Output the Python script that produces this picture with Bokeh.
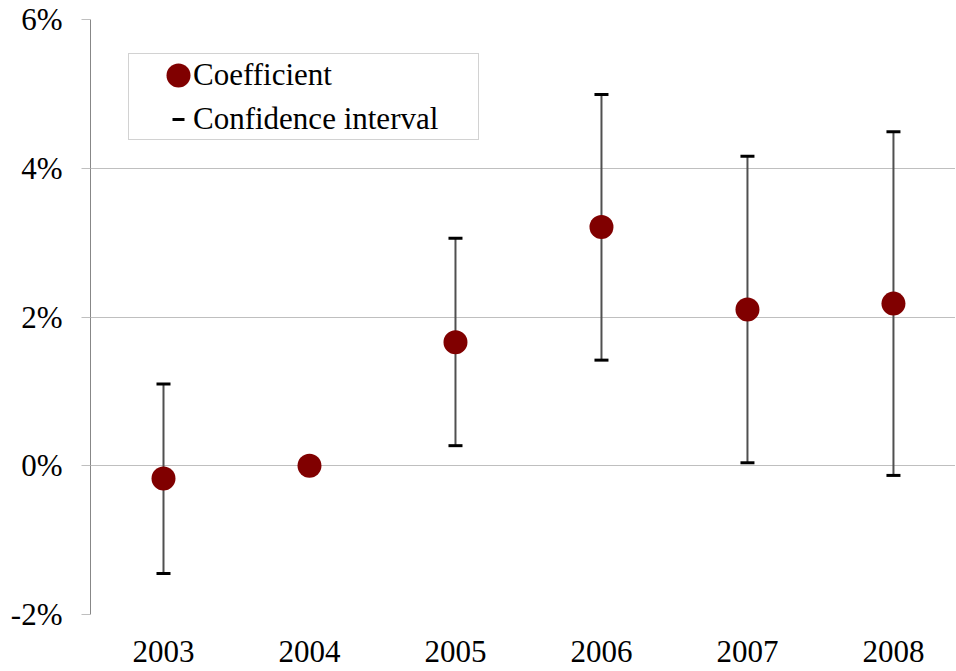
import numpy as np
from bokeh.plotting import figure
from bokeh.models import (Range1d, FixedTicker, PrintfTickFormatter, Legend,
                          LegendItem, ColumnDataSource)
from bokeh.embed import file_html
from bokeh.resources import INLINE

# ---- data ----
years = ["2003", "2004", "2005", "2006", "2007", "2008"]
coef = [-0.17, 0.00, 1.66, 3.21, 2.10, 2.18]          # percent
ci_low = [-1.45, np.nan, 0.27, 1.42, 0.04, -0.13]     # percent
ci_high = [1.10, np.nan, 3.06, 4.99, 4.16, 4.49]      # percent
y_ticks = [-2, 0, 2, 4, 6]

xpos = list(range(len(years)))
src = ColumnDataSource(dict(x=np.array(xpos, dtype=float),
                            coef=np.array(coef, dtype=float),
                            lo=np.array(ci_low, dtype=float),
                            hi=np.array(ci_high, dtype=float)))

FONT = "'Times New Roman', 'Liberation Serif', 'DejaVu Serif', serif"
FS = "31px"

p = figure(width=955, height=671, output_backend="svg", toolbar_location=None,
           x_range=Range1d(-0.5, 5.425), y_range=Range1d(-2, 6),
           min_border_left=90, min_border_right=0, min_border_top=19,
           min_border_bottom=57)
p.outline_line_color = None
p.background_fill_color = "white"
p.border_fill_color = "white"

# grid
p.xgrid.visible = False
p.ygrid.grid_line_color = "#bfbfbf"
p.ygrid.grid_line_width = 1

# y axis
p.yaxis.ticker = FixedTicker(ticks=y_ticks)
p.yaxis.formatter = PrintfTickFormatter(format="%d%%")
p.yaxis.axis_line_color = "#878787"
p.yaxis.major_tick_line_color = "#bfbfbf"
p.yaxis.major_tick_out = 9
p.yaxis.major_tick_in = 0
p.yaxis.minor_tick_line_color = None
p.yaxis.major_label_standoff = 19
p.yaxis.major_label_text_font = FONT
p.yaxis.major_label_text_font_size = FS
p.yaxis.major_label_text_color = "black"

# x axis
p.xaxis.ticker = FixedTicker(ticks=xpos)
p.xaxis.major_label_overrides = {i: y for i, y in zip(xpos, years)}
p.xaxis.axis_line_color = None
p.xaxis.major_tick_line_color = None
p.xaxis.minor_tick_line_color = None
p.xaxis.major_label_standoff = 20
p.xaxis.major_label_text_font = FONT
p.xaxis.major_label_text_font_size = FS
p.xaxis.major_label_text_color = "black"

# confidence intervals
p.segment(x0="x", y0="lo", x1="x", y1="hi", source=src,
          line_color="#505050", line_width=2)
cap_lo = p.scatter(x="x", y="lo", source=src, marker="dash", size=14,
                   line_color="black", line_width=3)
cap_hi = p.scatter(x="x", y="hi", source=src, marker="dash", size=14,
                   line_color="black", line_width=3)
# invisible renderer used only for the legend frame
ghost = p.scatter(x="x", y="hi", source=src, marker="dash", size=1,
                  line_alpha=0, fill_alpha=0)

# coefficients
dots = p.ellipse(x="x", y="coef", width=24, height=24,
                 width_units="screen", height_units="screen",
                 fill_color="#800000", line_color=None, source=src)

# legend frame
frame_legend = Legend(items=[LegendItem(label=" ", renderers=[ghost])],
                      location=(38, 474), margin=0, padding=0, spacing=0,
                      glyph_width=300, glyph_height=85, label_standoff=0,
                      label_width=49, label_text_font_size="10px",
                      border_line_color="#a6a6a6", border_line_width=1,
                      background_fill_color="white", background_fill_alpha=1)
p.add_layout(frame_legend)

legend = Legend(items=[LegendItem(label="Coefficient", renderers=[dots]),
                       LegendItem(label="Confidence interval", renderers=[cap_hi])],
                location=(73, 477), margin=0, padding=0, spacing=8,
                glyph_width=30, glyph_height=32, label_standoff=0,
                label_text_font=FONT, label_text_font_size=FS,
                label_text_color="black",
                border_line_color=None, background_fill_alpha=0)
p.add_layout(legend)

open("out.html", "w").write(file_html(p, INLINE))
